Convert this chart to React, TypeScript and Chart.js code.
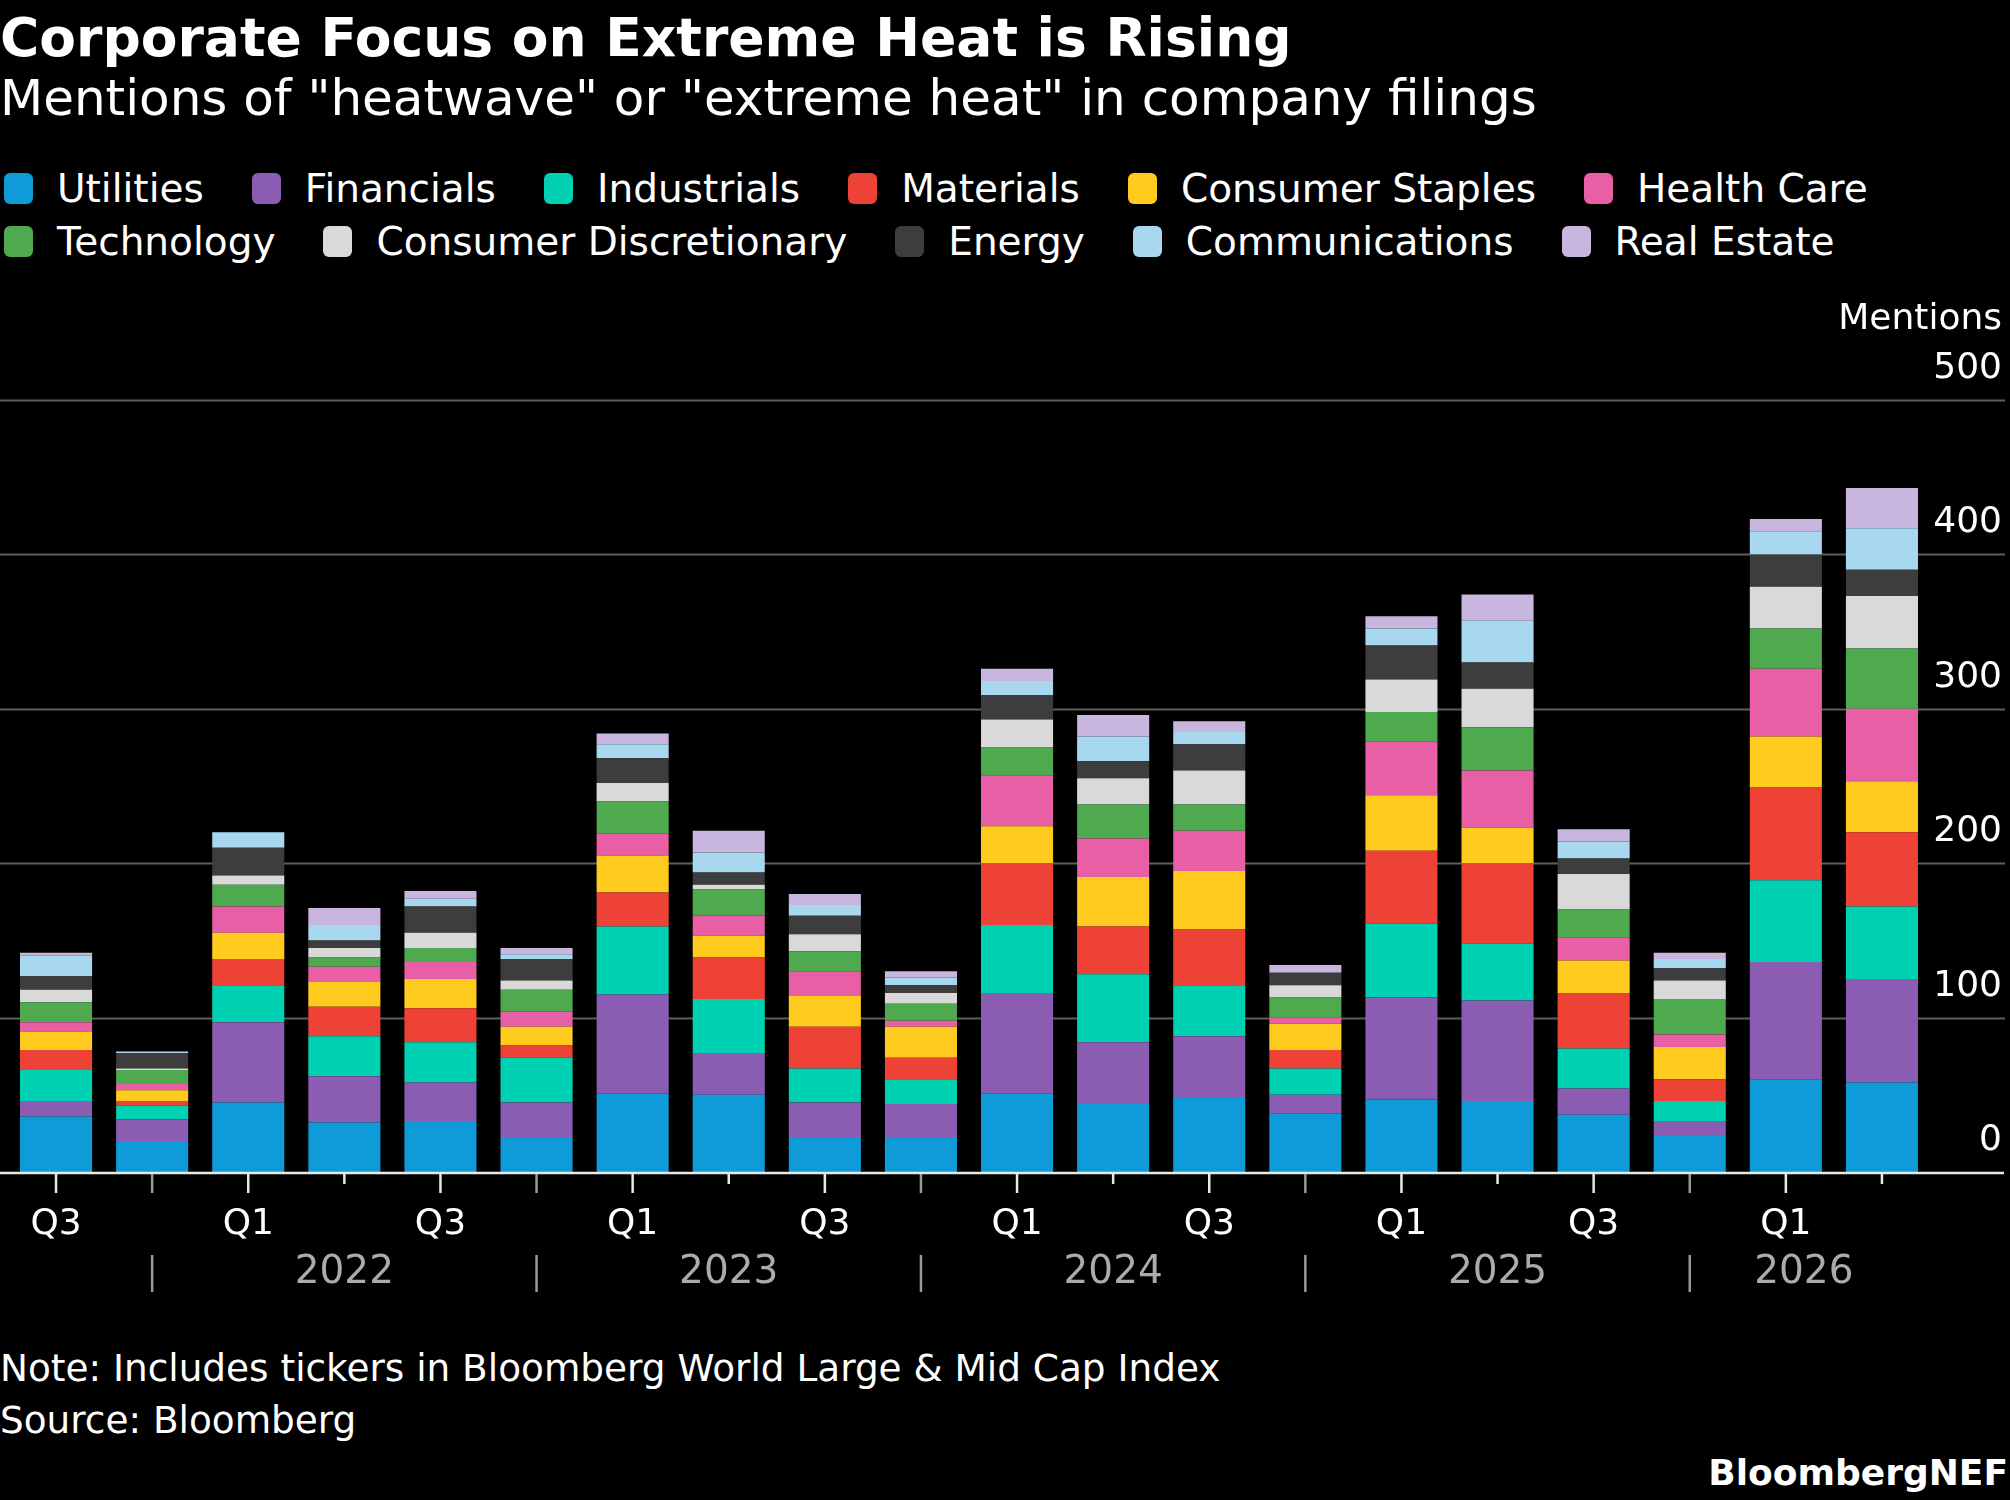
import { useEffect, useRef } from "react";
import Chart from "chart.js/auto";

// quarters shown on the x axis
const periods = [
  "Q3 2021", "Q4 2021",
  "Q1 2022", "Q2 2022", "Q3 2022", "Q4 2022",
  "Q1 2023", "Q2 2023", "Q3 2023", "Q4 2023",
  "Q1 2024", "Q2 2024", "Q3 2024", "Q4 2024",
  "Q1 2025", "Q2 2025", "Q3 2025", "Q4 2025",
  "Q1 2026", "Q2 2026",
];

// mentions per sector
const utilities = [36, 20, 45, 32, 33, 22, 51, 50, 22, 22, 51, 44, 48, 38, 47, 46, 37, 24, 60, 58];
const financials = [10, 14, 52, 30, 25, 23, 64, 27, 23, 22, 65, 40, 40, 12, 66, 65, 17, 9, 76, 67];
const industrials = [20, 9, 24, 26, 26, 29, 44, 35, 22, 16, 44, 44, 33, 17, 48, 37, 26, 13, 53, 47];
const materials = [13, 3, 17, 19, 22, 8, 22, 27, 27, 14, 40, 31, 36, 12, 47, 52, 36, 14, 60, 48];
const consumerStaples = [12, 7, 17, 16, 19, 12, 24, 14, 20, 20, 24, 32, 38, 17, 36, 23, 21, 21, 33, 33];
const healthCare = [6, 4, 17, 10, 11, 10, 14, 13, 16, 4, 33, 25, 26, 4, 35, 37, 15, 8, 44, 47];
const technology = [13, 9, 14, 6, 9, 14, 21, 17, 13, 11, 18, 22, 17, 13, 19, 28, 18, 23, 26, 39];
const consumerDiscretionary = [8, 1, 6, 6, 10, 6, 12, 3, 11, 7, 18, 17, 22, 8, 21, 25, 23, 12, 27, 34];
const energy = [9, 10, 18, 5, 17, 14, 16, 8, 12, 5, 16, 11, 17, 8, 22, 17, 10, 8, 21, 17];
const communications = [13, 1, 10, 10, 5, 3, 9, 13, 7, 5, 9, 16, 8, 0, 11, 27, 11, 6, 15, 27];
const realEstate = [2, 0, 0, 11, 5, 4, 7, 14, 7, 4, 8, 14, 7, 5, 8, 17, 8, 4, 8, 26];

const yTicks = [0, 100, 200, 300, 400, 500];

const series = [
  { label: "Utilities", data: utilities, color: "#0e9bd8" },
  { label: "Financials", data: financials, color: "#8a5db3" },
  { label: "Industrials", data: industrials, color: "#00d1b3" },
  { label: "Materials", data: materials, color: "#ef4236" },
  { label: "Consumer Staples", data: consumerStaples, color: "#ffcb1f" },
  { label: "Health Care", data: healthCare, color: "#e95fa6" },
  { label: "Technology", data: technology, color: "#4ea94f" },
  { label: "Consumer Discretionary", data: consumerDiscretionary, color: "#d9d9d9" },
  { label: "Energy", data: energy, color: "#3d3d3d" },
  { label: "Communications", data: communications, color: "#a8d8f0" },
  { label: "Real Estate", data: realEstate, color: "#c9b6df" },
];

const FONT = '"DejaVu Sans", sans-serif';

const overlay = {
  id: "overlay",
  beforeDatasetsDraw(chart: any) {
    const { ctx, scales } = chart;
    const y = scales.y;
    ctx.save();
    ctx.strokeStyle = "#5e5e5e";
    ctx.lineWidth = 2;
    yTicks.forEach((v) => {
      if (v === 0) return;
      const py = Math.round(y.getPixelForValue(v)) + 0.5;
      ctx.beginPath();
      ctx.moveTo(0, py);
      ctx.lineTo(chart.width - 5, py);
      ctx.stroke();
    });
    ctx.restore();
  },
  afterDatasetsDraw(chart: any) {
    const { ctx, scales } = chart;
    const x = scales.x;
    const y = scales.y;
    const base = y.getPixelForValue(0);
    ctx.save();

    // baseline
    ctx.strokeStyle = "#e8e8e8";
    ctx.lineWidth = 2.5;
    ctx.beginPath();
    ctx.moveTo(0, base + 1);
    ctx.lineTo(chart.width - 6, base + 1);
    ctx.stroke();

    // y labels
    ctx.font = `36px ${FONT}`;
    ctx.fillStyle = "#ffffff";
    ctx.textAlign = "right";
    ctx.textBaseline = "alphabetic";
    yTicks.forEach((v) => {
      ctx.fillText(String(v), chart.width - 8, y.getPixelForValue(v) - 22);
    });
    ctx.fillText("Mentions", chart.width - 8, y.getPixelForValue(500) - 71);

    // ticks, quarter labels, year separators
    const meta = chart.getDatasetMeta(0);
    ctx.textAlign = "center";
    const seps: number[] = [];
    periods.forEach((p, i) => {
      const [q] = p.split(" ");
      const px = x.getPixelForValue(i);
      const long = q !== "Q2";
      ctx.strokeStyle = q === "Q4" ? "#9a9a9a" : "#e8e8e8";
      ctx.lineWidth = 2.5;
      ctx.beginPath();
      ctx.moveTo(px, base + 2);
      ctx.lineTo(px, base + (long ? 21 : 12));
      ctx.stroke();
      if (q === "Q1" || q === "Q3") {
        ctx.fillStyle = "#ffffff";
        ctx.fillText(q, px, base + 62);
      }
      if (q === "Q4") {
        seps.push(px);
        ctx.strokeStyle = "#9a9a9a";
        ctx.beginPath();
        ctx.moveTo(px, base + 83);
        ctx.lineTo(px, base + 120);
        ctx.stroke();
      }
    });

    // year labels between separators
    const last = meta.data[meta.data.length - 1];
    const lastRight = last.x + last.width / 2;
    const years = Array.from(new Set(periods.map((p) => p.split(" ")[1])));
    ctx.font = `39px ${FONT}`;
    ctx.fillStyle = "#ababab";
    years.forEach((yr, k) => {
      if (k === 0) return;
      const start = seps[k - 1];
      const end = k < seps.length ? seps[k] : lastRight;
      if (start === undefined) return;
      ctx.fillText(yr, (start + end) / 2, base + 111);
    });

    ctx.restore();
  },
};

const ChartCanvas = () => {
  const canvasRef = useRef<HTMLCanvasElement>(null);

  useEffect(() => {
    if (!canvasRef.current) return;
    const chart = new Chart(canvasRef.current, {
      type: "bar",
      data: {
        labels: periods,
        datasets: series.map((s) => ({
          label: s.label,
          data: s.data,
          backgroundColor: s.color,
          borderWidth: 0,
          categoryPercentage: 1,
          barPercentage: 0.75,
        })),
      },
      options: {
        responsive: false,
        animation: false,
        layout: { padding: { left: 8, right: 80, top: 120, bottom: 148 } },
        plugins: { legend: { display: false }, tooltip: { enabled: false } },
        scales: {
          x: { stacked: true, display: false },
          y: { stacked: true, display: false, min: 0, max: 500 },
        },
      },
      plugins: [overlay],
    });
    return () => chart.destroy();
  }, []);

  return (
    <canvas
      ref={canvasRef}
      width={2010}
      height={1040}
      style={{ position: "absolute", left: 0, top: 280, width: 2010, height: 1040 }}
    />
  );
};

const App = () => {
  useEffect(() => {
    document.body.style.margin = "0";
    document.body.style.background = "#000";
  }, []);

  const text = { position: "absolute" as const, color: "#fff", fontFamily: FONT, lineHeight: 1, whiteSpace: "nowrap" as const };

  return (
    <div style={{ position: "relative", width: 2010, height: 1500, background: "#000", overflow: "hidden" }}>
      <div style={{ ...text, left: 0, top: 11, fontSize: 53.5, fontWeight: "bold" }}>
        Corporate Focus on Extreme Heat is Rising
      </div>
      <div style={{ ...text, left: 0, top: 73, fontSize: 50 }}>
        Mentions of "heatwave" or "extreme heat" in company filings
      </div>
      <div
        style={{
          position: "absolute",
          left: 4,
          top: 168,
          width: 1990,
          display: "flex",
          flexWrap: "wrap",
          columnGap: 48,
          rowGap: 13,
          fontFamily: FONT,
          fontSize: 39,
          color: "#fff",
        }}
      >
        {series.map((s) => (
          <div key={s.label} style={{ display: "flex", alignItems: "center", height: 40, whiteSpace: "nowrap" }}>
            <span
              style={{
                display: "inline-block",
                width: 29,
                height: 31,
                borderRadius: 6,
                background: s.color,
                marginRight: 24,
              }}
            />
            {s.label}
          </div>
        ))}
      </div>
      <ChartCanvas />
      <div style={{ ...text, left: 0, top: 1350, fontSize: 37.4 }}>
        Note: Includes tickers in Bloomberg World Large &amp; Mid Cap Index
      </div>
      <div style={{ ...text, left: 0, top: 1402, fontSize: 37.4 }}>Source: Bloomberg</div>
      <div style={{ ...text, right: 2, top: 1455, fontSize: 36, fontWeight: "bold" }}>BloombergNEF</div>
    </div>
  );
};

export default App;
